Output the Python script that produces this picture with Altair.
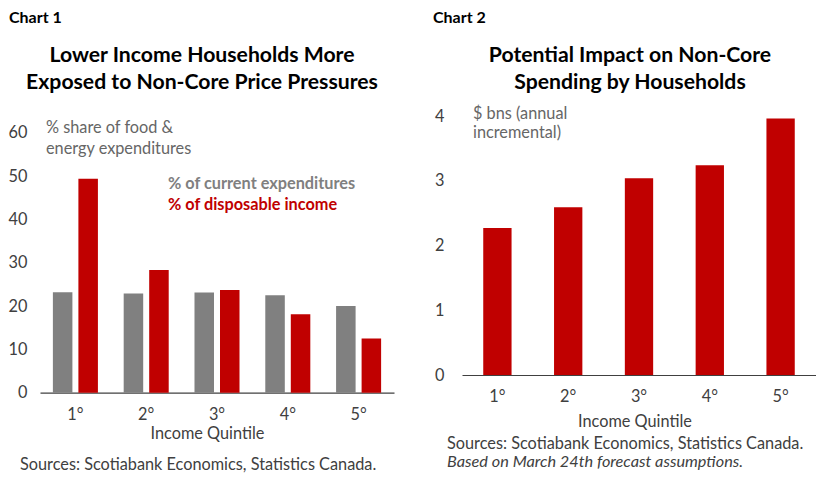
import altair as alt
import pandas as pd

# ---------------- data ----------------
quintiles = ["1°", "2°", "3°", "4°", "5°"]
series = ["% of current expenditures", "% of disposable income"]
current_exp = [23.2, 22.9, 23.1, 22.5, 20.0]
disposable_inc = [49.4, 28.3, 23.7, 18.1, 12.5]
impact_bns = [2.27, 2.59, 3.04, 3.24, 3.96]
colors = ["#808080", "#C00000"]

y1_ticks = [0, 10, 20, 30, 40, 50, 60]
y2_ticks = [0, 1, 2, 3, 4]

chart1_label = "Chart 1"
chart1_title = ["Lower Income Households More", "Exposed to Non-Core Price Pressures"]
chart1_unit = ["% share of food &", "energy expenditures"]
chart1_source = ["Sources: Scotiabank Economics, Statistics Canada."]
chart2_label = "Chart 2"
chart2_title = ["Potential Impact on Non-Core", "Spending by Households"]
chart2_unit = ["$ bns (annual", "incremental)"]
chart2_source = ["Sources: Scotiabank Economics, Statistics Canada.",
                 "Based on March 24th forecast assumptions."]
x_title = "Income Quintile"

FONT = "Lato"
TXT = "#404040"
BODY = 16.3
TITLE = 21.2


def text_layer(txt, x, y, size=BODY, weight="normal", color=TXT, align="left", style="normal"):
    df = pd.DataFrame({"t": [txt]})
    return alt.Chart(df).mark_text(
        align=align, baseline="middle", font=FONT, fontSize=size,
        fontWeight=weight, color=color, fontStyle=style,
    ).encode(x=alt.value(x), y=alt.value(y), text="t:N")


def x_axis(title_x, title_y, label_pad):
    return alt.Axis(
        title=x_title, labelAngle=0, domain=True, domainColor="#404040", domainWidth=1.2,
        ticks=False, tickSize=0, grid=False, labelPadding=label_pad, labelBaseline="middle",
        labelFont=FONT, labelFontSize=BODY, labelColor=TXT,
        titleFont=FONT, titleFontSize=BODY, titleFontWeight="normal", titleColor=TXT,
        titleX=title_x, titleY=title_y, titleAlign="center", titleBaseline="middle",
    )


def y_axis(values, pad):
    return alt.Axis(
        values=values, title=None, domain=False, ticks=False, tickSize=0, grid=False,
        labelPadding=pad, labelFont=FONT, labelFontSize=16.3, labelColor=TXT,
    )


# ---------------- chart 1 ----------------
W = 354
OFF = 16.7          # chart 1 plot sits lower than chart 2
H1 = 260 + OFF
df1 = pd.DataFrame({
    "quintile": quintiles * 2,
    "series": [series[0]] * len(quintiles) + [series[1]] * len(quintiles),
    "value": current_exp + disposable_inc,
})
bars1 = alt.Chart(df1).mark_bar().encode(
    x=alt.X("quintile:N", sort=quintiles,
            scale=alt.Scale(paddingInner=0.364, paddingOuter=0.182),
            axis=x_axis(167, 41, 22)),
    xOffset=alt.XOffset("series:N", sort=series,
                        scale=alt.Scale(paddingInner=0.235, paddingOuter=0)),
    y=alt.Y("value:Q", scale=alt.Scale(domain=[0, 60], nice=False, range=[H1, OFF]),
            axis=y_axis(y1_ticks, 13)),
    color=alt.Color("series:N", scale=alt.Scale(domain=series, range=colors), legend=None),
)

panel1 = alt.layer(
    bars1,
    text_layer(chart1_label, -31, -98, size=16, weight="bold", color="#000000"),
    text_layer(chart1_title[0], 162, -60, size=TITLE, weight="bold", color="#000000", align="center"),
    text_layer(chart1_title[1], 162, -33, size=TITLE, weight="bold", color="#000000", align="center"),
    text_layer(chart1_unit[0], 6, OFF - 5, color="#666666"),
    text_layer(chart1_unit[1], 6, OFF + 16, color="#666666"),
    text_layer(series[0], 128, OFF + 51.3, weight="bold", color=colors[0]),
    text_layer(series[1], 128, OFF + 72.3, weight="bold", color=colors[1]),
    text_layer(chart1_source[0], -20, H1 + 72, color=TXT),
).properties(width=W, height=H1)

# ---------------- chart 2 ----------------
H2 = 259
df2 = pd.DataFrame({"quintile": quintiles, "value": impact_bns})
bars2 = alt.Chart(df2).mark_bar(color=colors[1]).encode(
    x=alt.X("quintile:N", sort=quintiles,
            scale=alt.Scale(paddingInner=0.6, paddingOuter=0.3),
            axis=x_axis(172.5, 46.7, 21)),
    y=alt.Y("value:Q", scale=alt.Scale(domain=[0, 4], nice=False), axis=y_axis(y2_ticks, 18)),
)

panel2 = alt.layer(
    bars2,
    text_layer(chart2_label, -29, -98, size=16, weight="bold", color="#000000"),
    text_layer(chart2_title[0], 168, -60, size=TITLE, weight="bold", color="#000000", align="center"),
    text_layer(chart2_title[1], 168, -33, size=TITLE, weight="bold", color="#000000", align="center"),
    text_layer(chart2_unit[0], 11, -2.3, color="#666666"),
    text_layer(chart2_unit[1], 11, 16.7, color="#666666"),
    text_layer(chart2_source[0], -15, H2 + 69, color=TXT),
    text_layer(chart2_source[1], -15, H2 + 87, color=TXT, style="italic"),
).properties(width=W, height=H2)

chart = alt.hconcat(panel1, panel2, spacing=39).properties(
    padding={"top": 2, "left": 0, "right": 0, "bottom": 0}
).configure_view(stroke=None)

chart.save("out.html", embed_options={"renderer": "svg", "actions": False})
